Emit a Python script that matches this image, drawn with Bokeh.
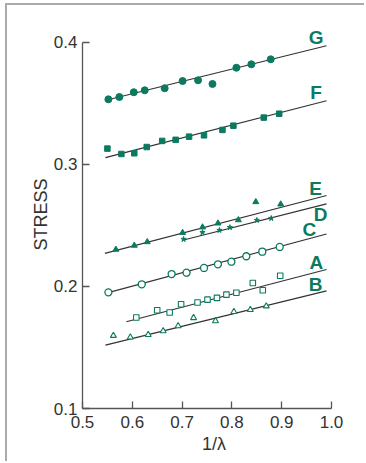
from bokeh.plotting import figure
from bokeh.models import Range1d, FixedTicker, NumeralTickFormatter
from bokeh.core.properties import value
from bokeh.embed import file_html
from bokeh.resources import INLINE

# ---- measured points (x = 1/lambda, y = stress) ----
g_x = [0.552, 0.574, 0.603, 0.625, 0.665, 0.701, 0.732, 0.761, 0.809, 0.839, 0.878]
g_y = [0.3534, 0.3553, 0.3592, 0.3608, 0.3625, 0.3684, 0.3690, 0.3660, 0.3793, 0.3821, 0.3862]

f_x = [0.550, 0.578, 0.604, 0.629, 0.660, 0.687, 0.714, 0.744, 0.781, 0.803, 0.864, 0.895]
f_y = [0.3130, 0.3086, 0.3092, 0.3143, 0.3193, 0.3202, 0.3228, 0.3239, 0.3283, 0.3318, 0.3384, 0.3416]

e_x = [0.567, 0.604, 0.630, 0.701, 0.741, 0.772, 0.813, 0.848, 0.898]
e_y = [0.2303, 0.2336, 0.2365, 0.2441, 0.2486, 0.2518, 0.2545, 0.2693, 0.2674]

d_x = [0.703, 0.741, 0.775, 0.796, 0.850, 0.879]
d_y = [0.2387, 0.2443, 0.2461, 0.2484, 0.2543, 0.2559]

c_x = [0.552, 0.619, 0.679, 0.709, 0.744, 0.772, 0.799, 0.829, 0.861, 0.896]
c_y = [0.1952, 0.2018, 0.2102, 0.2113, 0.2152, 0.2182, 0.2203, 0.2248, 0.2285, 0.2324]

a_x = [0.608, 0.650, 0.675, 0.698, 0.731, 0.751, 0.770, 0.789, 0.809, 0.842, 0.862, 0.897]
a_y = [0.1746, 0.1805, 0.1787, 0.1854, 0.1869, 0.1892, 0.1907, 0.1933, 0.1949, 0.2029, 0.1969, 0.2088]

b_x = [0.562, 0.596, 0.632, 0.662, 0.692, 0.723, 0.767, 0.804, 0.837, 0.869]
b_y = [0.1597, 0.1584, 0.1604, 0.1635, 0.1676, 0.1743, 0.1717, 0.1793, 0.1809, 0.1839]

# ---- fitted straight lines: (x start, x end, y start, y end) ----
fit_x0 = {"G": 0.545, "F": 0.546, "E": 0.545, "D": 0.703, "C": 0.546, "A": 0.588, "B": 0.546}
fit_x1 = {"G": 0.990, "F": 0.990, "E": 0.990, "D": 0.990, "C": 0.990, "A": 0.990, "B": 0.990}
fit_y0 = {"G": 0.3524, "F": 0.3056, "E": 0.2271, "D": 0.2381, "C": 0.1944, "A": 0.1711, "B": 0.1520}
fit_y1 = {"G": 0.3973, "F": 0.3522, "E": 0.2746, "D": 0.2677, "C": 0.2430, "A": 0.2139, "B": 0.1964}

x_ticks = [0.5, 0.6, 0.7, 0.8, 0.9, 1.0]
y_ticks = [0.1, 0.2, 0.3, 0.4]

GREEN = "#0b7a60"
INK = "#333333"
FONT = "Liberation Sans"

p = figure(
    width=359, height=458,
    output_backend="svg", toolbar_location=None,
    x_range=Range1d(0.5, 1.0281), y_range=Range1d(0.1, 0.418),
    min_border_left=75, min_border_right=21, min_border_top=15, min_border_bottom=55,
)
# thin grey frame along the top and left edge of the page
p.styles = {
    "margin-left": "5px", "margin-top": "3px",
    "border-left": "2px solid #ababab", "border-top": "2px solid #ababab",
}
p.outline_line_color = None
p.grid.grid_line_color = None
p.background_fill_color = "white"
p.border_fill_color = "white"

# fitted lines
for key in ["G", "F", "E", "D", "C", "A", "B"]:
    p.line([fit_x0[key], fit_x1[key]], [fit_y0[key], fit_y1[key]],
           line_color=INK, line_width=1.2)

# data markers
p.scatter(g_x, g_y, marker="circle", size=7, fill_color=GREEN, line_color=GREEN)
p.scatter(f_x, f_y, marker="square", size=5.5, fill_color=GREEN, line_color=GREEN)
p.scatter(e_x, e_y, marker="triangle", size=6, fill_color=GREEN, line_color=GREEN)
p.scatter(d_x, d_y, marker="star", size=5.5, fill_color=GREEN, line_color=GREEN)
p.scatter(c_x, c_y, marker="circle", size=7, fill_color="white", line_color=GREEN, line_width=1.3)
p.scatter(a_x, a_y, marker="square", size=5.5, fill_color="white", line_color=GREEN, line_width=1.1)
p.scatter(b_x, b_y, marker="triangle", size=6, fill_color="white", line_color=GREEN, line_width=1.1)

# series letters next to the line ends
lbl_text = ["G", "F", "E", "D", "C", "A", "B"]
lbl_x = [0.9689, 0.9689, 0.9679, 0.9779, 0.9554, 0.9695, 0.9679]
lbl_y = [0.4043, 0.3592, 0.2807, 0.2592, 0.2469, 0.2199, 0.2016]
p.text(lbl_x, lbl_y, text=lbl_text, text_color=GREEN,
       text_font=value(FONT), text_font_style="bold", text_font_size="19px",
       text_align="center", text_baseline="middle")

# axes
for ax in (p.xaxis[0], p.yaxis[0]):
    ax.axis_line_color = "#555555"
    ax.axis_line_width = 1.3
    ax.major_tick_line_color = "#555555"
    ax.major_tick_line_width = 1.3
    ax.major_tick_in = 7
    ax.major_tick_out = 0
    ax.minor_tick_line_color = None
    ax.major_label_text_font = FONT
    ax.major_label_text_font_size = "17px"
    ax.major_label_text_color = "#333333"
    ax.axis_label_text_font = FONT
    ax.axis_label_text_font_size = "18px"
    ax.axis_label_text_font_style = "normal"
    ax.axis_label_text_color = "#333333"
    ax.formatter = NumeralTickFormatter(format="0.0")

p.xaxis.bounds = (0.5, 1.0)
p.yaxis.bounds = (0.1, 0.4)
p.xaxis.ticker = FixedTicker(ticks=x_ticks)
p.yaxis.ticker = FixedTicker(ticks=y_ticks)
p.xaxis.axis_label = "1/λ"
p.yaxis.axis_label = "STRESS"
p.xaxis.major_label_standoff = 7
p.yaxis.major_label_standoff = 5
p.xaxis.axis_label_standoff = 3
p.yaxis.axis_label_standoff = 0

open("out.html", "w").write(file_html(p, INLINE))
